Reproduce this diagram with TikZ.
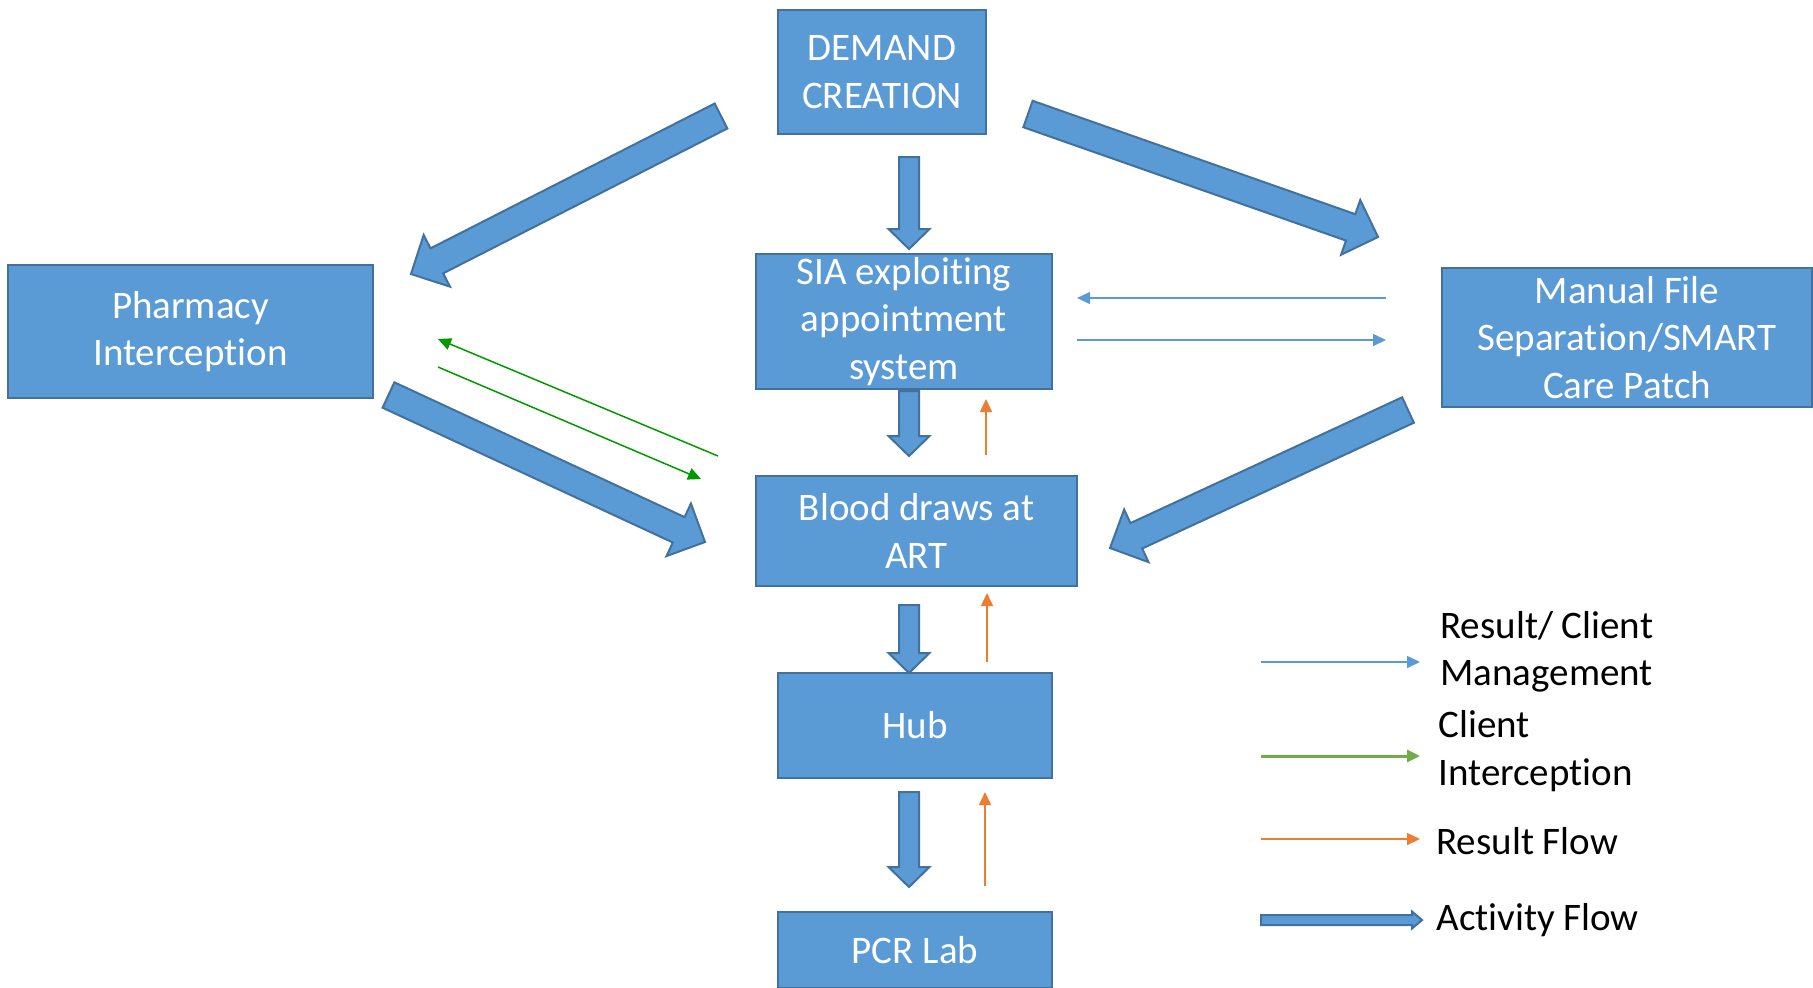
\documentclass[tikz,border=0pt]{standalone}
\usepackage{fontspec}
\setmainfont[Ligatures=NoCommon]{Carlito}
\usetikzlibrary{positioning, arrows.meta, calc}

\definecolor{boxblue}{RGB}{91,155,213}
\definecolor{boxedge}{RGB}{65,113,156}
\definecolor{resorange}{RGB}{237,125,49}
\definecolor{intgreen}{RGB}{0,153,0}
\definecolor{leggreen}{RGB}{112,173,71}

% block arrow: from, to, shaft half width, head half width, head length
\newcommand{\actarrow}[5]{%
  \coordinate (ah) at ($(#2)!#5!(#1)$);
  \filldraw[activity] ($(#1)!#3!90:(#2)$) -- ($(ah)!#3!90:(#2)$) -- ($(ah)!#4!90:(#2)$) -- (#2)
    -- ($(ah)!#4!-90:(#2)$) -- ($(ah)!#3!-90:(#2)$) -- ($(#1)!#3!-90:(#2)$) -- cycle;
}

\begin{document}
\begin{tikzpicture}[x=0.5pt, y=-0.5pt, >=Latex,
    box/.style={rectangle, draw=boxedge, fill=boxblue, line width=1pt, text=white, align=center, inner sep=0pt, font=\fontsize{19.5}{23.75}\selectfont},
    legtext/.style={anchor=west, align=left, inner sep=0pt, font=\fontsize{19.5}{23.75}\selectfont},
    activity/.style={draw=boxedge, fill=boxblue, line width=1pt, line join=miter},
    mgmt/.style={draw=boxblue, line width=0.75pt, -{Triangle[length=6.5pt,width=6pt]}},
    interc/.style={draw=intgreen, line width=0.75pt, -{Triangle[length=6.5pt,width=6pt]}},
    result/.style={draw=resorange, line width=0.75pt, -{Triangle[length=6.5pt,width=6pt]}}]
    \useasboundingbox (0,0) rectangle (1813,987);

    % boxes
    \node[box, minimum width=104pt, minimum height=62pt] (demand) at (882,72) {DEMAND\\CREATION};
    \node[box, minimum width=148pt, minimum height=67.5pt] (sia) at (904,321.5) {SIA exploiting\\appointment\\system};
    \node[box, minimum width=182.5pt, minimum height=66.5pt] (pharmacy) at (190.5,331.5) {Pharmacy\\Interception};
    \node[box, minimum width=185pt, minimum height=69.5pt] (manual) at (1627,337.5) {Manual File\\Separation/SMART\\Care Patch};
    \node[box, minimum width=160.5pt, minimum height=55pt] (blood) at (916.5,531) {Blood draws at\\ART};
    \node[box, minimum width=137pt, minimum height=52.5pt] (hub) at (915,725.5) {Hub};
    \node[box, minimum width=137pt, minimum height=38pt] (pcr) at (915,950) {PCR Lab};

    % activity flow
    \coordinate (d2s-a) at (909,157);   \coordinate (d2s-b) at (909,249);
    \coordinate (s2b-a) at (909,391);   \coordinate (s2b-b) at (909,456);
    \coordinate (b2h-a) at (909,605);   \coordinate (b2h-b) at (909,673);
    \coordinate (h2p-a) at (909,792);   \coordinate (h2p-b) at (909,887);
    \coordinate (d2ph-a) at (721,116);  \coordinate (d2ph-b) at (411,274);
    \coordinate (d2m-a) at (1028,114);  \coordinate (d2m-b) at (1378,237);
    \coordinate (ph2b-a) at (388.5,395); \coordinate (ph2b-b) at (705,542);
    \coordinate (m2b-a) at (1408,410);  \coordinate (m2b-b) at (1110,548);

    \actarrow{d2s-a}{d2s-b}{5pt}{10.25pt}{10pt}
    \actarrow{s2b-a}{s2b-b}{5pt}{10.25pt}{10pt}
    \actarrow{b2h-a}{b2h-b}{5pt}{10.25pt}{10pt}
    \actarrow{h2p-a}{h2p-b}{5pt}{10.25pt}{10pt}
    \actarrow{d2ph-a}{d2ph-b}{7pt}{14.5pt}{14.5pt}
    \actarrow{d2m-a}{d2m-b}{7pt}{14.5pt}{14.5pt}
    \actarrow{ph2b-a}{ph2b-b}{7pt}{14.5pt}{14.5pt}
    \actarrow{m2b-a}{m2b-b}{7pt}{14.5pt}{14.5pt}

    % result / client management
    \coordinate (m2s-a) at (1386,298);  \coordinate (m2s-b) at (1077,298);
    \coordinate (s2m-a) at (1077,340);  \coordinate (s2m-b) at (1386,340);
    \draw[mgmt] (m2s-a) -- (m2s-b);
    \draw[mgmt] (s2m-a) -- (s2m-b);

    % client interception
    \coordinate (b2ph-a) at (718,456);  \coordinate (b2ph-b) at (438,339);
    \coordinate (ph2bi-a) at (438,367); \coordinate (ph2bi-b) at (701,479);
    \draw[interc] (b2ph-a) -- (b2ph-b);
    \draw[interc] (ph2bi-a) -- (ph2bi-b);

    % result flow
    \coordinate (b2sr-a) at (986,455);  \coordinate (b2sr-b) at (986,399);
    \coordinate (h2br-a) at (987,662);  \coordinate (h2br-b) at (987,593);
    \coordinate (p2hr-a) at (985,886);  \coordinate (p2hr-b) at (985,792);
    \draw[result] (b2sr-a) -- (b2sr-b);
    \draw[result] (h2br-a) -- (h2br-b);
    \draw[result] (p2hr-a) -- (p2hr-b);

    % legend
    \coordinate (lg1-a) at (1261,662);  \coordinate (lg1-b) at (1420,662);
    \coordinate (lg2-a) at (1261,756);  \coordinate (lg2-b) at (1420,756);
    \coordinate (lg3-a) at (1261,839);  \coordinate (lg3-b) at (1420,839);
    \coordinate (lg4-a) at (1261,920);  \coordinate (lg4-b) at (1422,920);
    \draw[mgmt] (lg1-a) -- (lg1-b);
    \draw[draw=leggreen, line width=1.5pt, -{Triangle[length=6.5pt,width=6pt]}] (lg2-a) -- (lg2-b);
    \draw[result] (lg3-a) -- (lg3-b);
    \actarrow{lg4-a}{lg4-b}{2.5pt}{4.25pt}{5pt}

    \node[legtext] (leg1) at (1440,652) {Result/ Client\\Management};
    \node[legtext] (leg2) at (1438,751) {Client\\Interception};
    \node[legtext] (leg3) at (1436,841) {Result Flow};
    \node[legtext] (leg4) at (1436,920) {Activity Flow};
\end{tikzpicture}
\end{document}
